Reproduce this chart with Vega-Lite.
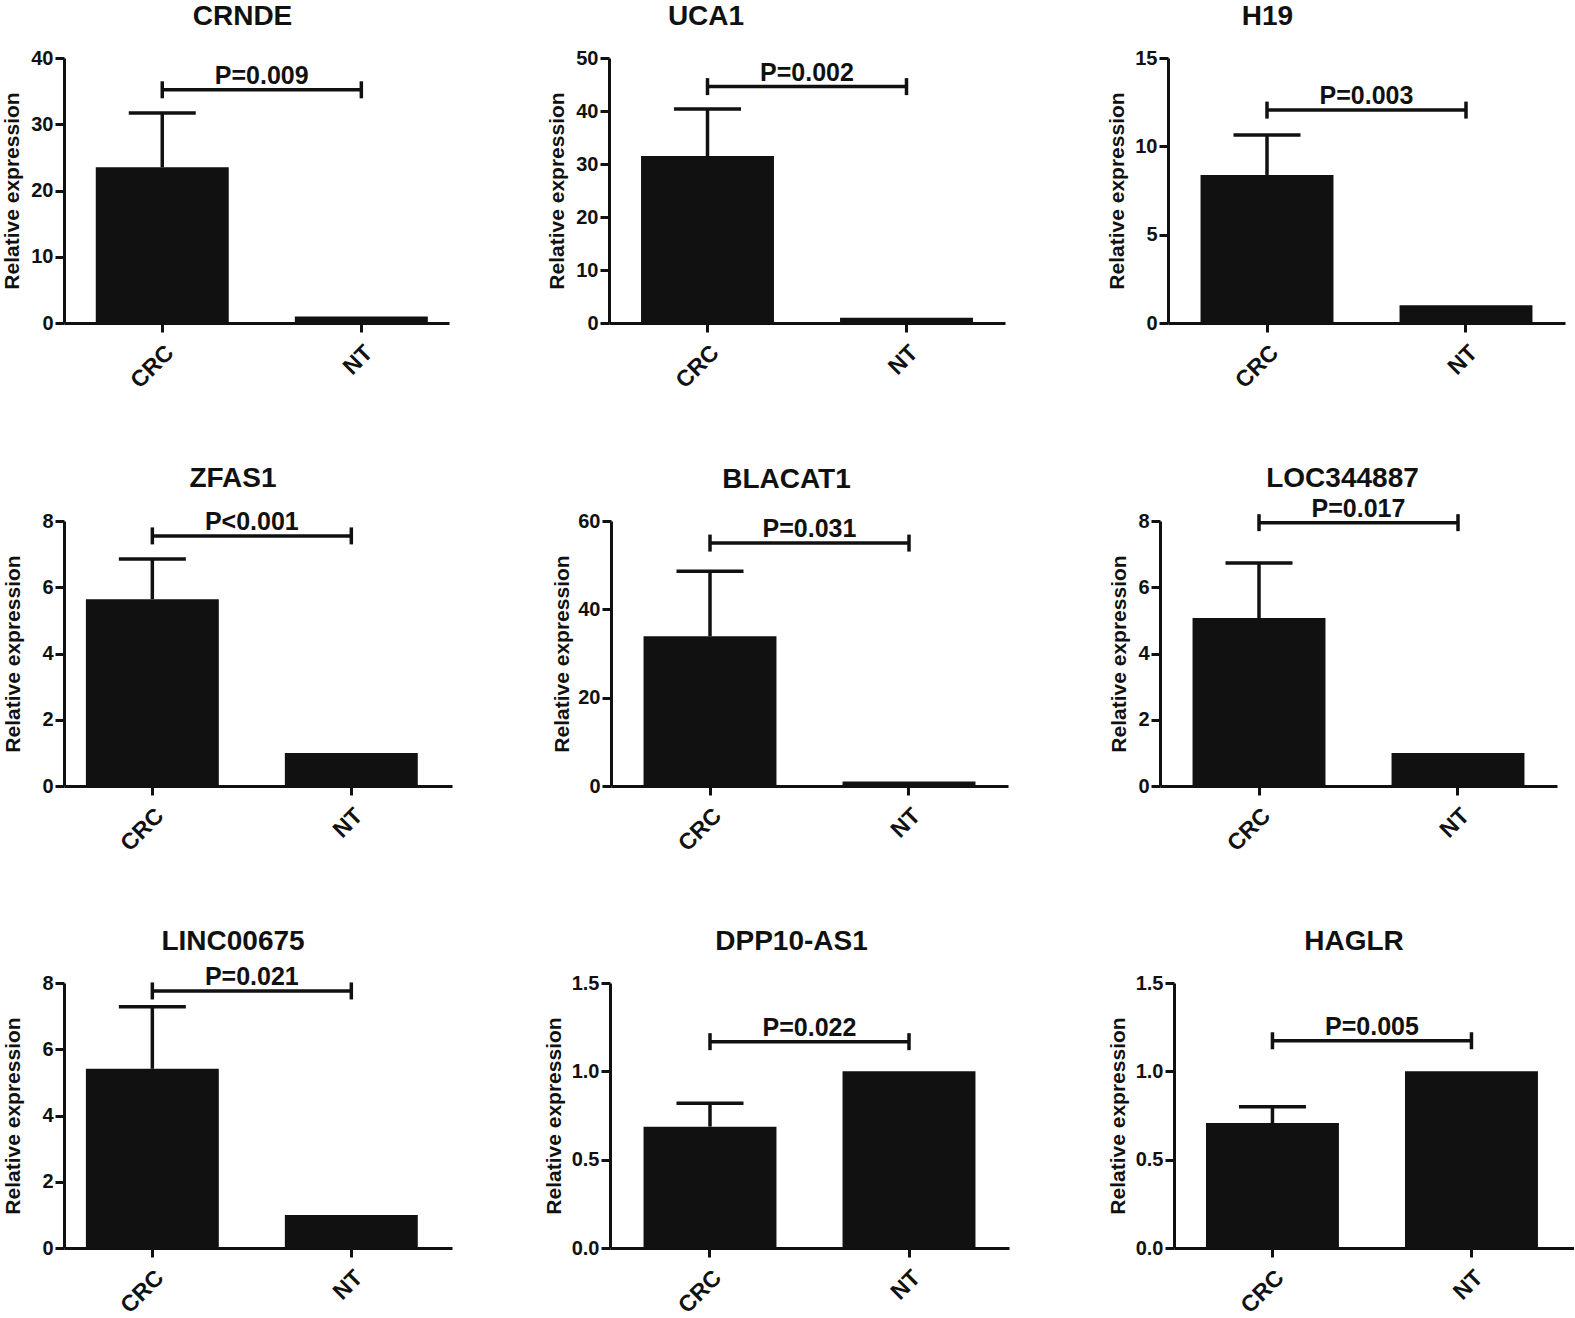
{
  "$schema": "https://vega.github.io/schema/vega-lite/v6.json",
  "background": "white",
  "padding": {"left": 1, "top": 3, "right": 0, "bottom": 0},
  "datasets": {
    "expr": [
      {"gene": "CRNDE", "group": "CRC", "mean": 23.5, "upper": 31.7, "bracket": 35.2, "to": "NT", "p": "P=0.009"},
      {"gene": "CRNDE", "group": "NT", "mean": 1.0, "bracket": 35.2},
      {"gene": "UCA1", "group": "CRC", "mean": 31.5, "upper": 40.4, "bracket": 44.6, "to": "NT", "p": "P=0.002"},
      {"gene": "UCA1", "group": "NT", "mean": 1.0, "bracket": 44.6},
      {"gene": "H19", "group": "CRC", "mean": 8.38, "upper": 10.64, "bracket": 12.05, "to": "NT", "p": "P=0.003"},
      {"gene": "H19", "group": "NT", "mean": 1.0, "bracket": 12.05},
      {"gene": "ZFAS1", "group": "CRC", "mean": 5.64, "upper": 6.85, "bracket": 7.55, "to": "NT", "p": "P<0.001"},
      {"gene": "ZFAS1", "group": "NT", "mean": 1.0, "bracket": 7.55},
      {"gene": "BLACAT1", "group": "CRC", "mean": 33.9, "upper": 48.6, "bracket": 55.0, "to": "NT", "p": "P=0.031"},
      {"gene": "BLACAT1", "group": "NT", "mean": 1.0, "bracket": 55.0},
      {"gene": "LOC344887", "group": "CRC", "mean": 5.07, "upper": 6.73, "bracket": 7.95, "to": "NT", "p": "P=0.017"},
      {"gene": "LOC344887", "group": "NT", "mean": 1.0, "bracket": 7.95},
      {"gene": "LINC00675", "group": "CRC", "mean": 5.41, "upper": 7.28, "bracket": 7.76, "to": "NT", "p": "P=0.021"},
      {"gene": "LINC00675", "group": "NT", "mean": 1.0, "bracket": 7.76},
      {"gene": "DPP10-AS1", "group": "CRC", "mean": 0.687, "upper": 0.82, "bracket": 1.168, "to": "NT", "p": "P=0.022"},
      {"gene": "DPP10-AS1", "group": "NT", "mean": 1.0, "bracket": 1.168},
      {"gene": "HAGLR", "group": "CRC", "mean": 0.707, "upper": 0.80, "bracket": 1.173, "to": "NT", "p": "P=0.005"},
      {"gene": "HAGLR", "group": "NT", "mean": 1.0, "bracket": 1.173}
    ]
  },
  "concat": [
    {
      "spacing": 97,
      "hconcat": [
        {
          "width": 385, "height": 265,
          "title": {"text": "CRNDE", "dx": -14},
          "data": {"name": "expr"},
          "transform": [{"filter": "datum.gene == 'CRNDE'"}],
          "encoding": {"x": {"field": "group", "type": "nominal", "sort": ["CRC", "NT"], "title": null, "scale": {"paddingInner": 0.332, "paddingOuter": 0.133, "align": 0.6}}},
          "layer": [
            {"mark": {"type": "bar", "color": "#111"}, "encoding": {"y": {"field": "mean", "type": "quantitative", "title": "Relative expression", "scale": {"domain": [0, 40], "nice": false}, "axis": {"values": [0, 10, 20, 30, 40], "minExtent": 38, "maxExtent": 38}}}},
            {"transform": [{"filter": "isValid(datum.upper)"}], "mark": {"type": "rule", "strokeWidth": 3.5, "color": "#111"}, "encoding": {"y": {"field": "mean", "type": "quantitative", "title": "Relative expression"}, "y2": {"field": "upper"}}},
            {"mark": {"type": "tick", "size": 67, "thickness": 3.5, "color": "#111", "opacity": 1}, "encoding": {"y": {"field": "upper", "type": "quantitative", "title": "Relative expression"}}},
            {"transform": [{"filter": "isValid(datum.to)"}], "mark": {"type": "rule", "strokeWidth": 3.5, "color": "#111"}, "encoding": {"x2": {"field": "to"}, "y": {"field": "bracket", "type": "quantitative", "title": "Relative expression"}}},
            {"mark": {"type": "point", "shape": "M0,-1L0,1", "size": 289, "filled": false, "strokeWidth": 3.5, "color": "#111", "opacity": 1}, "encoding": {"y": {"field": "bracket", "type": "quantitative", "title": "Relative expression"}}},
            {"transform": [{"filter": "isValid(datum.p)"}], "mark": {"type": "text", "dx": 99.5, "dy": -6, "baseline": "alphabetic", "fontSize": 25, "fontWeight": "bold", "font": "Liberation Sans", "color": "#111"}, "encoding": {"y": {"field": "bracket", "type": "quantitative", "title": "Relative expression"}, "text": {"field": "p"}}}
          ]
        },
        {
          "spacing": 101,
          "hconcat": [
            {
              "width": 396, "height": 265,
              "title": {"text": "UCA1", "dx": -101},
              "data": {"name": "expr"},
              "transform": [{"filter": "datum.gene == 'UCA1'"}],
              "encoding": {"x": {"field": "group", "type": "nominal", "sort": ["CRC", "NT"], "title": null, "scale": {"paddingInner": 0.332, "paddingOuter": 0.161, "align": 0.5}}},
              "layer": [
                {"mark": {"type": "bar", "color": "#111"}, "encoding": {"y": {"field": "mean", "type": "quantitative", "title": "Relative expression", "scale": {"domain": [0, 50], "nice": false}, "axis": {"values": [0, 10, 20, 30, 40, 50], "minExtent": 38, "maxExtent": 38}}}},
                {"transform": [{"filter": "isValid(datum.upper)"}], "mark": {"type": "rule", "strokeWidth": 3.5, "color": "#111"}, "encoding": {"y": {"field": "mean", "type": "quantitative", "title": "Relative expression"}, "y2": {"field": "upper"}}},
                {"mark": {"type": "tick", "size": 67, "thickness": 3.5, "color": "#111", "opacity": 1}, "encoding": {"y": {"field": "upper", "type": "quantitative", "title": "Relative expression"}}},
                {"transform": [{"filter": "isValid(datum.to)"}], "mark": {"type": "rule", "strokeWidth": 3.5, "color": "#111"}, "encoding": {"x2": {"field": "to"}, "y": {"field": "bracket", "type": "quantitative", "title": "Relative expression"}}},
                {"mark": {"type": "point", "shape": "M0,-1L0,1", "size": 289, "filled": false, "strokeWidth": 3.5, "color": "#111", "opacity": 1}, "encoding": {"y": {"field": "bracket", "type": "quantitative", "title": "Relative expression"}}},
                {"transform": [{"filter": "isValid(datum.p)"}], "mark": {"type": "text", "dx": 99.5, "dy": -6, "baseline": "alphabetic", "fontSize": 25, "fontWeight": "bold", "font": "Liberation Sans", "color": "#111"}, "encoding": {"y": {"field": "bracket", "type": "quantitative", "title": "Relative expression"}, "text": {"field": "p"}}}
              ]
            },
            {
              "width": 397, "height": 265,
              "title": {"text": "H19", "dx": -99},
              "data": {"name": "expr"},
              "transform": [{"filter": "datum.gene == 'H19'"}],
              "encoding": {"x": {"field": "group", "type": "nominal", "sort": ["CRC", "NT"], "title": null, "scale": {"paddingInner": 0.332, "paddingOuter": 0.1635, "align": 0.5}}},
              "layer": [
                {"mark": {"type": "bar", "color": "#111"}, "encoding": {"y": {"field": "mean", "type": "quantitative", "title": "Relative expression", "scale": {"domain": [0, 15], "nice": false}, "axis": {"values": [0, 5, 10, 15], "minExtent": 37, "maxExtent": 37}}}},
                {"transform": [{"filter": "isValid(datum.upper)"}], "mark": {"type": "rule", "strokeWidth": 3.5, "color": "#111"}, "encoding": {"y": {"field": "mean", "type": "quantitative", "title": "Relative expression"}, "y2": {"field": "upper"}}},
                {"mark": {"type": "tick", "size": 67, "thickness": 3.5, "color": "#111", "opacity": 1}, "encoding": {"y": {"field": "upper", "type": "quantitative", "title": "Relative expression"}}},
                {"transform": [{"filter": "isValid(datum.to)"}], "mark": {"type": "rule", "strokeWidth": 3.5, "color": "#111"}, "encoding": {"x2": {"field": "to"}, "y": {"field": "bracket", "type": "quantitative", "title": "Relative expression"}}},
                {"mark": {"type": "point", "shape": "M0,-1L0,1", "size": 289, "filled": false, "strokeWidth": 3.5, "color": "#111", "opacity": 1}, "encoding": {"y": {"field": "bracket", "type": "quantitative", "title": "Relative expression"}}},
                {"transform": [{"filter": "isValid(datum.p)"}], "mark": {"type": "text", "dx": 99.5, "dy": -6, "baseline": "alphabetic", "fontSize": 25, "fontWeight": "bold", "font": "Liberation Sans", "color": "#111"}, "encoding": {"y": {"field": "bracket", "type": "quantitative", "title": "Relative expression"}, "text": {"field": "p"}}}
              ]
            }
          ]
        }
      ]
    },
    {
      "spacing": 99,
      "hconcat": [
        {
          "width": 388, "height": 265,
          "title": {"text": "ZFAS1", "dx": -25},
          "data": {"name": "expr"},
          "transform": [{"filter": "datum.gene == 'ZFAS1'"}],
          "encoding": {"x": {"field": "group", "type": "nominal", "sort": ["CRC", "NT"], "title": null, "scale": {"paddingInner": 0.332, "paddingOuter": 0.141, "align": 0.39}}},
          "layer": [
            {"mark": {"type": "bar", "color": "#111"}, "encoding": {"y": {"field": "mean", "type": "quantitative", "title": "Relative expression", "scale": {"domain": [0, 8], "nice": false}, "axis": {"values": [0, 2, 4, 6, 8], "minExtent": 37, "maxExtent": 37}}}},
            {"transform": [{"filter": "isValid(datum.upper)"}], "mark": {"type": "rule", "strokeWidth": 3.5, "color": "#111"}, "encoding": {"y": {"field": "mean", "type": "quantitative", "title": "Relative expression"}, "y2": {"field": "upper"}}},
            {"mark": {"type": "tick", "size": 67, "thickness": 3.5, "color": "#111", "opacity": 1}, "encoding": {"y": {"field": "upper", "type": "quantitative", "title": "Relative expression"}}},
            {"transform": [{"filter": "isValid(datum.to)"}], "mark": {"type": "rule", "strokeWidth": 3.5, "color": "#111"}, "encoding": {"x2": {"field": "to"}, "y": {"field": "bracket", "type": "quantitative", "title": "Relative expression"}}},
            {"mark": {"type": "point", "shape": "M0,-1L0,1", "size": 289, "filled": false, "strokeWidth": 3.5, "color": "#111", "opacity": 1}, "encoding": {"y": {"field": "bracket", "type": "quantitative", "title": "Relative expression"}}},
            {"transform": [{"filter": "isValid(datum.p)"}], "mark": {"type": "text", "dx": 99.5, "dy": -6, "baseline": "alphabetic", "fontSize": 25, "fontWeight": "bold", "font": "Liberation Sans", "color": "#111"}, "encoding": {"y": {"field": "bracket", "type": "quantitative", "title": "Relative expression"}, "text": {"field": "p"}}}
          ]
        },
        {
          "spacing": 100,
          "hconcat": [
            {
              "width": 397, "height": 265,
              "title": {"text": "BLACAT1", "dx": -23},
              "data": {"name": "expr"},
              "transform": [{"filter": "datum.gene == 'BLACAT1'"}],
              "encoding": {"x": {"field": "group", "type": "nominal", "sort": ["CRC", "NT"], "title": null, "scale": {"paddingInner": 0.332, "paddingOuter": 0.1635, "align": 0.5}}},
              "layer": [
                {"mark": {"type": "bar", "color": "#111"}, "encoding": {"y": {"field": "mean", "type": "quantitative", "title": "Relative expression", "scale": {"domain": [0, 60], "nice": false}, "axis": {"values": [0, 20, 40, 60], "minExtent": 35, "maxExtent": 35}}}},
                {"transform": [{"filter": "isValid(datum.upper)"}], "mark": {"type": "rule", "strokeWidth": 3.5, "color": "#111"}, "encoding": {"y": {"field": "mean", "type": "quantitative", "title": "Relative expression"}, "y2": {"field": "upper"}}},
                {"mark": {"type": "tick", "size": 67, "thickness": 3.5, "color": "#111", "opacity": 1}, "encoding": {"y": {"field": "upper", "type": "quantitative", "title": "Relative expression"}}},
                {"transform": [{"filter": "isValid(datum.to)"}], "mark": {"type": "rule", "strokeWidth": 3.5, "color": "#111"}, "encoding": {"x2": {"field": "to"}, "y": {"field": "bracket", "type": "quantitative", "title": "Relative expression"}}},
                {"mark": {"type": "point", "shape": "M0,-1L0,1", "size": 289, "filled": false, "strokeWidth": 3.5, "color": "#111", "opacity": 1}, "encoding": {"y": {"field": "bracket", "type": "quantitative", "title": "Relative expression"}}},
                {"transform": [{"filter": "isValid(datum.p)"}], "mark": {"type": "text", "dx": 99.5, "dy": -6, "baseline": "alphabetic", "fontSize": 25, "fontWeight": "bold", "font": "Liberation Sans", "color": "#111"}, "encoding": {"y": {"field": "bracket", "type": "quantitative", "title": "Relative expression"}, "text": {"field": "p"}}}
              ]
            },
            {
              "width": 397, "height": 265,
              "title": {"text": "LOC344887", "dx": -16, "offset": 4},
              "data": {"name": "expr"},
              "transform": [{"filter": "datum.gene == 'LOC344887'"}],
              "encoding": {"x": {"field": "group", "type": "nominal", "sort": ["CRC", "NT"], "title": null, "scale": {"paddingInner": 0.332, "paddingOuter": 0.1635, "align": 0.5}}},
              "layer": [
                {"mark": {"type": "bar", "color": "#111"}, "encoding": {"y": {"field": "mean", "type": "quantitative", "title": "Relative expression", "scale": {"domain": [0, 8], "nice": false}, "axis": {"values": [0, 2, 4, 6, 8], "minExtent": 27, "maxExtent": 27}}}},
                {"transform": [{"filter": "isValid(datum.upper)"}], "mark": {"type": "rule", "strokeWidth": 3.5, "color": "#111"}, "encoding": {"y": {"field": "mean", "type": "quantitative", "title": "Relative expression"}, "y2": {"field": "upper"}}},
                {"mark": {"type": "tick", "size": 67, "thickness": 3.5, "color": "#111", "opacity": 1}, "encoding": {"y": {"field": "upper", "type": "quantitative", "title": "Relative expression"}}},
                {"transform": [{"filter": "isValid(datum.to)"}], "mark": {"type": "rule", "strokeWidth": 3.5, "color": "#111"}, "encoding": {"x2": {"field": "to"}, "y": {"field": "bracket", "type": "quantitative", "title": "Relative expression"}}},
                {"mark": {"type": "point", "shape": "M0,-1L0,1", "size": 289, "filled": false, "strokeWidth": 3.5, "color": "#111", "opacity": 1}, "encoding": {"y": {"field": "bracket", "type": "quantitative", "title": "Relative expression"}}},
                {"transform": [{"filter": "isValid(datum.p)"}], "mark": {"type": "text", "dx": 99.5, "dy": -6, "baseline": "alphabetic", "fontSize": 25, "fontWeight": "bold", "font": "Liberation Sans", "color": "#111"}, "encoding": {"y": {"field": "bracket", "type": "quantitative", "title": "Relative expression"}, "text": {"field": "p"}}}
              ]
            }
          ]
        }
      ]
    },
    {
      "spacing": 91,
      "hconcat": [
        {
          "width": 388, "height": 265,
          "title": {"text": "LINC00675", "dx": -25, "offset": 9},
          "data": {"name": "expr"},
          "transform": [{"filter": "datum.gene == 'LINC00675'"}],
          "encoding": {"x": {"field": "group", "type": "nominal", "sort": ["CRC", "NT"], "title": null, "scale": {"paddingInner": 0.332, "paddingOuter": 0.141, "align": 0.39}}},
          "layer": [
            {"mark": {"type": "bar", "color": "#111"}, "encoding": {"y": {"field": "mean", "type": "quantitative", "title": "Relative expression", "scale": {"domain": [0, 8], "nice": false}, "axis": {"values": [0, 2, 4, 6, 8], "minExtent": 37, "maxExtent": 37}}}},
            {"transform": [{"filter": "isValid(datum.upper)"}], "mark": {"type": "rule", "strokeWidth": 3.5, "color": "#111"}, "encoding": {"y": {"field": "mean", "type": "quantitative", "title": "Relative expression"}, "y2": {"field": "upper"}}},
            {"mark": {"type": "tick", "size": 67, "thickness": 3.5, "color": "#111", "opacity": 1}, "encoding": {"y": {"field": "upper", "type": "quantitative", "title": "Relative expression"}}},
            {"transform": [{"filter": "isValid(datum.to)"}], "mark": {"type": "rule", "strokeWidth": 3.5, "color": "#111"}, "encoding": {"x2": {"field": "to"}, "y": {"field": "bracket", "type": "quantitative", "title": "Relative expression"}}},
            {"mark": {"type": "point", "shape": "M0,-1L0,1", "size": 289, "filled": false, "strokeWidth": 3.5, "color": "#111", "opacity": 1}, "encoding": {"y": {"field": "bracket", "type": "quantitative", "title": "Relative expression"}}},
            {"transform": [{"filter": "isValid(datum.p)"}], "mark": {"type": "text", "dx": 99.5, "dy": -6, "baseline": "alphabetic", "fontSize": 25, "fontWeight": "bold", "font": "Liberation Sans", "color": "#111"}, "encoding": {"y": {"field": "bracket", "type": "quantitative", "title": "Relative expression"}, "text": {"field": "p"}}}
          ]
        },
        {
          "spacing": 98,
          "hconcat": [
            {
              "width": 399, "height": 265,
              "title": {"text": "DPP10-AS1", "dx": -18},
              "data": {"name": "expr"},
              "transform": [{"filter": "datum.gene == 'DPP10-AS1'"}],
              "encoding": {"x": {"field": "group", "type": "nominal", "sort": ["CRC", "NT"], "title": null, "scale": {"paddingInner": 0.332, "paddingOuter": 0.1685, "align": 0.5}}},
              "layer": [
                {"mark": {"type": "bar", "color": "#111"}, "encoding": {"y": {"field": "mean", "type": "quantitative", "title": "Relative expression", "scale": {"domain": [0, 1.5], "nice": false}, "axis": {"values": [0, 0.5, 1.0, 1.5], "format": ".1f", "minExtent": 42, "maxExtent": 42}}}},
                {"transform": [{"filter": "isValid(datum.upper)"}], "mark": {"type": "rule", "strokeWidth": 3.5, "color": "#111"}, "encoding": {"y": {"field": "mean", "type": "quantitative", "title": "Relative expression"}, "y2": {"field": "upper"}}},
                {"mark": {"type": "tick", "size": 67, "thickness": 3.5, "color": "#111", "opacity": 1}, "encoding": {"y": {"field": "upper", "type": "quantitative", "title": "Relative expression"}}},
                {"transform": [{"filter": "isValid(datum.to)"}], "mark": {"type": "rule", "strokeWidth": 3.5, "color": "#111"}, "encoding": {"x2": {"field": "to"}, "y": {"field": "bracket", "type": "quantitative", "title": "Relative expression"}}},
                {"mark": {"type": "point", "shape": "M0,-1L0,1", "size": 289, "filled": false, "strokeWidth": 3.5, "color": "#111", "opacity": 1}, "encoding": {"y": {"field": "bracket", "type": "quantitative", "title": "Relative expression"}}},
                {"transform": [{"filter": "isValid(datum.p)"}], "mark": {"type": "text", "dx": 99.5, "dy": -6, "baseline": "alphabetic", "fontSize": 25, "fontWeight": "bold", "font": "Liberation Sans", "color": "#111"}, "encoding": {"y": {"field": "bracket", "type": "quantitative", "title": "Relative expression"}, "text": {"field": "p"}}}
              ]
            },
            {
              "width": 400, "height": 265,
              "title": {"text": "HAGLR", "dx": -20},
              "data": {"name": "expr"},
              "transform": [{"filter": "datum.gene == 'HAGLR'"}],
              "encoding": {"x": {"field": "group", "type": "nominal", "sort": ["CRC", "NT"], "title": null, "scale": {"paddingInner": 0.332, "paddingOuter": 0.171, "align": 0.47}}},
              "layer": [
                {"mark": {"type": "bar", "color": "#111"}, "encoding": {"y": {"field": "mean", "type": "quantitative", "title": "Relative expression", "scale": {"domain": [0, 1.5], "nice": false}, "axis": {"values": [0, 0.5, 1.0, 1.5], "format": ".1f", "minExtent": 42, "maxExtent": 42}}}},
                {"transform": [{"filter": "isValid(datum.upper)"}], "mark": {"type": "rule", "strokeWidth": 3.5, "color": "#111"}, "encoding": {"y": {"field": "mean", "type": "quantitative", "title": "Relative expression"}, "y2": {"field": "upper"}}},
                {"mark": {"type": "tick", "size": 67, "thickness": 3.5, "color": "#111", "opacity": 1}, "encoding": {"y": {"field": "upper", "type": "quantitative", "title": "Relative expression"}}},
                {"transform": [{"filter": "isValid(datum.to)"}], "mark": {"type": "rule", "strokeWidth": 3.5, "color": "#111"}, "encoding": {"x2": {"field": "to"}, "y": {"field": "bracket", "type": "quantitative", "title": "Relative expression"}}},
                {"mark": {"type": "point", "shape": "M0,-1L0,1", "size": 289, "filled": false, "strokeWidth": 3.5, "color": "#111", "opacity": 1}, "encoding": {"y": {"field": "bracket", "type": "quantitative", "title": "Relative expression"}}},
                {"transform": [{"filter": "isValid(datum.p)"}], "mark": {"type": "text", "dx": 99.5, "dy": -6, "baseline": "alphabetic", "fontSize": 25, "fontWeight": "bold", "font": "Liberation Sans", "color": "#111"}, "encoding": {"y": {"field": "bracket", "type": "quantitative", "title": "Relative expression"}, "text": {"field": "p"}}}
              ]
            }
          ]
        }
      ]
    }
  ],
  "columns": 1,
  "align": "none",
  "spacing": 71,
  "config": {
    "view": {"stroke": null},
    "font": "Liberation Sans",
    "axis": {
      "grid": false,
      "domainColor": "#111", "domainWidth": 3,
      "tickColor": "#111", "tickWidth": 3, "tickSize": 9,
      "labelFont": "Liberation Sans", "labelFontWeight": "bold", "labelFontSize": 20, "labelColor": "#111", "labelPadding": 2,
      "titleFont": "Liberation Sans", "titleFontWeight": "bold", "titleFontSize": 21, "titleColor": "#111", "titlePadding": 4
    },
    "axisX": {"labelAngle": -45, "labelFontSize": 23, "labelPadding": 9},
    "title": {"font": "Liberation Sans", "fontSize": 28, "fontWeight": "bold", "color": "#111", "anchor": "middle", "offset": 17, "dx": -20}
  }
}
